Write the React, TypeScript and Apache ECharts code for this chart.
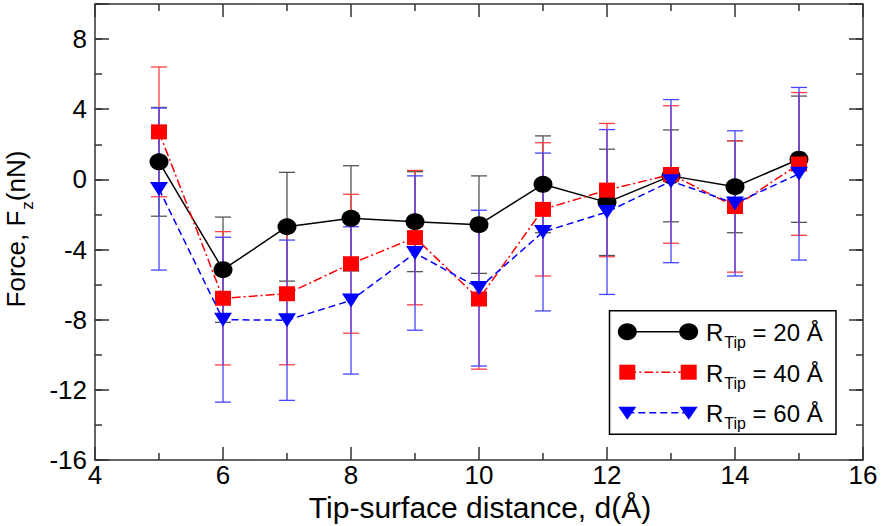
import React, { useEffect, useRef } from "react";
import * as echarts from "echarts";

const distances = [5, 6, 7, 8, 9, 10, 11, 12, 13, 14, 15];

const force20 = [1.0, -5.15, -2.7, -2.22, -2.41, -2.58, -0.28, -1.31, 0.2, -0.42, 1.15];
const err20 = [3.1, 3.0, 3.1, 3.0, 2.85, 2.78, 2.76, 3.03, 2.62, 2.62, 3.6];

const force40 = [2.71, -6.78, -6.52, -4.81, -3.32, -6.82, -1.71, -0.61, 0.28, -1.55, 0.88];
const err40 = [3.7, 3.8, 4.05, 3.96, 3.83, 4.0, 3.8, 3.8, 3.92, 3.74, 4.07];

const force60 = [-0.55, -8.0, -8.03, -6.9, -4.2, -6.2, -3.0, -1.86, -0.1, -1.37, 0.32];
const err60 = [4.62, 4.7, 4.57, 4.2, 4.4, 4.44, 4.5, 4.7, 4.65, 4.14, 4.92];

const legendRadii = ["20", "40", "60"];

const FONT = "'Liberation Sans', Arial, Helvetica, sans-serif";
const AXIS_COLOR = "#333";

function errorBars(name: string, values: number[], errs: number[], color: string, z: number) {
  return {
    type: "custom",
    name,
    z,
    silent: true,
    xAxisIndex: 0,
    yAxisIndex: 0,
    data: distances.map((d, i) => [d, values[i] - errs[i], values[i] + errs[i]]),
    encode: { x: 0, y: [1, 2] },
    renderItem: (_params: any, api: any) => {
      const x = api.value(0);
      const lo = api.coord([x, api.value(1)]);
      const hi = api.coord([x, api.value(2)]);
      const hw = 8;
      const style = { stroke: color, lineWidth: 1.3, fill: "none" };
      return {
        type: "group",
        children: [
          { type: "line", shape: { x1: lo[0], y1: lo[1], x2: hi[0], y2: hi[1] }, style },
          { type: "line", shape: { x1: lo[0] - hw, y1: lo[1], x2: lo[0] + hw, y2: lo[1] }, style },
          { type: "line", shape: { x1: hi[0] - hw, y1: hi[1], x2: hi[0] + hw, y2: hi[1] }, style },
        ],
      };
    },
  };
}

function lineSeries(
  name: string,
  values: number[],
  color: string,
  dash: any,
  symbol: string,
  size: any,
  rotate: number,
  z: number
) {
  return {
    type: "line",
    name,
    z,
    xAxisIndex: 0,
    yAxisIndex: 0,
    data: distances.map((d, i) => [d, values[i]]),
    symbol,
    symbolSize: size,
    symbolRotate: rotate,
    showAllSymbol: true,
    lineStyle: { color, width: 1.5, type: dash },
    itemStyle: { color, borderWidth: 0 },
  };
}

const lineStyle = { color: AXIS_COLOR, width: 1.5 };
const tickLabelStyle = { fontSize: 26, color: "#000", fontFamily: FONT };

function xAxisDef(position: "top" | "bottom", labels: boolean) {
  return {
    type: "value",
    position,
    min: 4,
    max: 16,
    interval: 2,
    axisLine: { show: true, onZero: false, lineStyle },
    axisTick: { show: true, inside: true, length: 13, lineStyle },
    minorTick: { show: true, splitNumber: 2, length: 7, lineStyle },
    splitLine: { show: false },
    axisLabel: { show: labels, margin: 2, ...tickLabelStyle },
  };
}

function yAxisDef(position: "left" | "right", major: boolean, labels: boolean) {
  return {
    type: "value",
    position,
    min: -16,
    max: 10,
    interval: major ? 4 : 2,
    axisLine: { show: major, onZero: false, lineStyle },
    axisTick: { show: true, inside: true, length: major ? 14 : 7, lineStyle },
    splitLine: { show: false },
    axisLabel: {
      show: labels,
      margin: 8,
      ...tickLabelStyle,
      formatter: (v: number) => (v > 8 ? "" : String(v)),
    },
  };
}

function legendItem(i: number, color: string, shape: "circle" | "rect" | "triangle", dash: any) {
  const y = 331.7 + i * 40.5;
  const x1 = 627.3;
  const x2 = 688.7;
  const marker = (cx: number) => {
    if (shape === "circle") {
      return { type: "ellipse", shape: { cx, cy: y, rx: 9.5, ry: 8.5 }, style: { fill: color }, z: 102 };
    }
    if (shape === "rect") {
      return { type: "rect", shape: { x: cx - 8, y: y - 7.5, width: 16, height: 15 }, style: { fill: color }, z: 102 };
    }
    return {
      type: "polygon",
      shape: { points: [[cx - 9, y - 6], [cx + 9, y - 6], [cx, y + 7]] },
      style: { fill: color },
      z: 102,
    };
  };
  return [
    {
      type: "line",
      shape: { x1, y1: y, x2, y2: y },
      style: { stroke: color, lineWidth: 1.5, lineDash: dash },
      z: 101,
    },
    marker(x1),
    marker(x2),
    {
      type: "text",
      x: 706,
      y: y + 2,
      z: 102,
      style: {
        text: `{r|R}{s|Tip}{r| = ${legendRadii[i]} Å}`,
        verticalAlign: "middle",
        textAlign: "left",
        fill: "#000",
        rich: {
          r: { fontSize: 24, fontFamily: FONT, fill: "#000", lineHeight: 26, verticalAlign: "top" },
          s: { fontSize: 16, fontFamily: FONT, fill: "#000", lineHeight: 16, verticalAlign: "top", padding: [14, 0, 0, 1] },
        },
      },
    },
  ];
}

export default function App() {
  const ref = useRef<HTMLDivElement>(null);
  useEffect(() => {
    if (!ref.current) return;
    const chart = echarts.init(ref.current, undefined, { renderer: "svg" });
    chart.setOption({
      animation: false,
      backgroundColor: "#fff",
      textStyle: { fontFamily: FONT },
      grid: { left: 95, right: 19, top: 4, bottom: 66, containLabel: false, outerBoundsMode: "none" },
      xAxis: [xAxisDef("bottom", true), xAxisDef("top", false)],
      yAxis: [
        yAxisDef("left", true, true),
        yAxisDef("left", false, false),
        yAxisDef("right", true, false),
        yAxisDef("right", false, false),
      ],
      series: [
        errorBars("err20", force20, err20, "#555555", 2),
        errorBars("err40", force40, err40, "#ff4040", 3),
        errorBars("err60", force60, err60, "#4545ff", 4),
        lineSeries("R20", force20, "#000000", "solid", "circle", [19, 17], 0, 5),
        lineSeries("R40", force40, "#ff0000", [9, 3, 2, 3], "rect", [16, 15], 0, 6),
        lineSeries("R60", force60, "#0000ff", [7, 4], "triangle", [18, 14], 180, 7),
      ],
      graphic: [
        {
          type: "rect",
          shape: { x: 609.5, y: 310.7, width: 226.5, height: 123.6 },
          style: { fill: "#fff", stroke: "#000", lineWidth: 1.5 },
          z: 100,
        },
        ...legendItem(0, "#000000", "circle", null),
        ...legendItem(1, "#ff0000", "rect", [9, 3, 2, 3]),
        ...legendItem(2, "#0000ff", "triangle", [7, 4]),
        {
          type: "text",
          x: 480,
          y: 507,
          style: {
            text: "Tip-surface distance, d(Å)",
            fontSize: 30,
            fontFamily: FONT,
            fill: "#000",
            textAlign: "center",
            verticalAlign: "middle",
          },
        },
        {
          type: "text",
          x: 16,
          y: 229,
          rotation: Math.PI / 2,
          style: {
            text: "{a|Force, F}{b|z}{a|(nN)}",
            textAlign: "center",
            verticalAlign: "middle",
            fill: "#000",
            rich: {
              a: { fontSize: 26, fontFamily: FONT, fill: "#000", lineHeight: 26, verticalAlign: "top" },
              b: { fontSize: 17, fontFamily: FONT, fill: "#000", lineHeight: 17, verticalAlign: "top", padding: [16, 0, 0, 1] },
            },
          },
        },
      ],
    });
    return () => chart.dispose();
  }, []);
  return (
    <div
      ref={ref}
      style={{ position: "fixed", left: 0, top: 0, width: 882, height: 526, background: "#fff" }}
    />
  );
}
